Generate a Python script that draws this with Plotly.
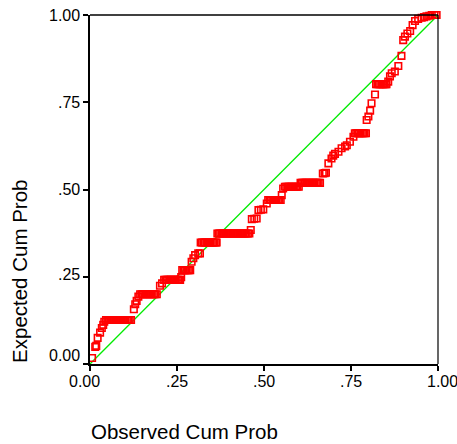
import plotly.graph_objects as go

# (observed cum prob, expected cum prob) pairs
points = [
    (0.006, 0.017), (0.015, 0.049), (0.018, 0.052), (0.022, 0.075), (0.029, 0.090),
    (0.034, 0.103), (0.038, 0.112), (0.041, 0.121),
    (0.046, 0.126), (0.050, 0.126), (0.054, 0.126), (0.058, 0.126), (0.062, 0.126),
    (0.066, 0.126), (0.070, 0.126), (0.074, 0.126), (0.078, 0.126), (0.082, 0.126),
    (0.086, 0.126), (0.090, 0.126), (0.094, 0.126), (0.098, 0.126), (0.102, 0.126),
    (0.106, 0.126), (0.110, 0.126), (0.114, 0.126), (0.118, 0.126),
    (0.126, 0.157), (0.130, 0.171), (0.134, 0.181), (0.139, 0.193),
    (0.144, 0.200), (0.148, 0.200), (0.152, 0.200), (0.156, 0.200), (0.160, 0.200),
    (0.164, 0.200), (0.168, 0.200), (0.172, 0.200), (0.176, 0.200), (0.180, 0.200),
    (0.184, 0.200), (0.188, 0.200), (0.192, 0.200),
    (0.201, 0.224), (0.207, 0.231),
    (0.213, 0.241), (0.217, 0.241), (0.221, 0.241), (0.225, 0.241), (0.229, 0.241),
    (0.233, 0.241), (0.237, 0.241), (0.241, 0.241), (0.245, 0.241), (0.249, 0.241),
    (0.253, 0.241), (0.257, 0.241), (0.259, 0.241),
    (0.262, 0.249),
    (0.265, 0.269), (0.269, 0.269), (0.273, 0.269), (0.277, 0.269), (0.281, 0.269),
    (0.285, 0.269), (0.288, 0.269),
    (0.292, 0.293), (0.297, 0.303), (0.302, 0.312), (0.311, 0.317), (0.316, 0.317),
    (0.318, 0.348), (0.322, 0.348), (0.326, 0.348), (0.330, 0.348), (0.334, 0.348),
    (0.338, 0.348), (0.342, 0.348), (0.346, 0.348), (0.350, 0.348), (0.354, 0.348),
    (0.358, 0.348), (0.362, 0.348), (0.364, 0.348),
    (0.366, 0.374), (0.370, 0.374), (0.374, 0.374), (0.378, 0.374), (0.382, 0.374),
    (0.386, 0.374), (0.390, 0.374), (0.394, 0.374), (0.398, 0.374), (0.402, 0.374),
    (0.406, 0.374), (0.410, 0.374), (0.414, 0.374), (0.418, 0.374), (0.422, 0.374),
    (0.426, 0.374), (0.430, 0.374), (0.434, 0.374), (0.438, 0.374), (0.442, 0.374),
    (0.446, 0.374), (0.450, 0.374), (0.454, 0.374), (0.458, 0.374),
    (0.462, 0.384), (0.465, 0.415), (0.472, 0.416), (0.479, 0.417), (0.484, 0.441),
    (0.491, 0.442), (0.498, 0.443), (0.508, 0.460),
    (0.512, 0.470), (0.516, 0.470), (0.520, 0.470), (0.524, 0.470), (0.528, 0.470),
    (0.532, 0.470), (0.536, 0.470), (0.540, 0.470), (0.544, 0.470), (0.548, 0.470),
    (0.551, 0.484), (0.555, 0.503),
    (0.560, 0.508), (0.564, 0.508), (0.568, 0.508), (0.572, 0.508), (0.576, 0.508),
    (0.580, 0.508), (0.584, 0.508), (0.588, 0.508), (0.592, 0.508), (0.596, 0.508),
    (0.600, 0.508),
    (0.605, 0.519), (0.609, 0.519), (0.613, 0.519), (0.617, 0.519), (0.621, 0.519),
    (0.625, 0.519), (0.629, 0.519), (0.633, 0.519), (0.637, 0.519), (0.641, 0.519),
    (0.645, 0.519), (0.649, 0.519), (0.653, 0.519), (0.657, 0.519), (0.661, 0.519),
    (0.669, 0.546), (0.674, 0.547), (0.678, 0.548), (0.685, 0.575), (0.694, 0.589),
    (0.699, 0.597), (0.704, 0.602), (0.714, 0.608), (0.723, 0.618), (0.733, 0.623),
    (0.738, 0.627), (0.747, 0.637), (0.757, 0.651),
    (0.761, 0.661), (0.765, 0.661), (0.769, 0.661), (0.773, 0.661), (0.777, 0.661),
    (0.781, 0.661), (0.785, 0.661), (0.789, 0.661), (0.793, 0.661),
    (0.795, 0.699), (0.800, 0.709), (0.805, 0.726), (0.809, 0.747), (0.819, 0.772),
    (0.822, 0.802), (0.826, 0.802), (0.830, 0.802), (0.834, 0.802), (0.838, 0.802),
    (0.842, 0.802), (0.846, 0.802), (0.850, 0.802), (0.852, 0.802),
    (0.857, 0.809), (0.862, 0.824), (0.867, 0.833), (0.876, 0.838), (0.886, 0.854),
    (0.895, 0.883), (0.900, 0.928), (0.905, 0.938), (0.912, 0.947), (0.920, 0.954),
    (0.927, 0.971), (0.934, 0.983), (0.943, 0.989), (0.953, 0.992), (0.960, 0.994),
    (0.967, 0.996), (0.975, 0.998), (0.982, 1.000), (0.990, 1.000), (0.996, 1.000),
]
obs = [p[0] for p in points]
exp = [p[1] for p in points]

diag = [0.0, 1.0]
tick_vals = [0.0, 0.25, 0.5, 0.75, 1.0]
tick_text = ["0.00", ".25", ".50", ".75", "1.00"]

FONT = "Liberation Sans, Arial, sans-serif"

fig = go.Figure()
fig.add_trace(go.Scatter(x=diag, y=diag, mode="lines",
                         line=dict(color="rgb(0,235,0)", width=1.3),
                         hoverinfo="skip", showlegend=False))
fig.add_trace(go.Scatter(x=obs, y=exp, mode="markers",
                         marker=dict(symbol="square-open", size=6.5, color="#ff0000",
                                     line=dict(color="#ff0000", width=1.6)),
                         cliponaxis=False, showlegend=False))

axis_common = dict(range=[0, 1], showgrid=False, zeroline=False, showline=True,
                   linecolor="black", linewidth=2, ticks="outside", ticklen=5,
                   tickwidth=1.5, tickcolor="black", tickvals=tick_vals,
                   showticklabels=False, fixedrange=True)
fig.update_layout(
    width=457, height=444,
    margin=dict(l=90, r=19, t=15, b=80),
    paper_bgcolor="white", plot_bgcolor="white",
    xaxis=axis_common, yaxis=axis_common,
    font=dict(family=FONT, color="black"),
)

# top and right frame lines (thinner)
fig.add_shape(type="line", xref="paper", yref="paper", x0=0, x1=1, y0=1, y1=1,
              line=dict(color="black", width=1.5))
fig.add_shape(type="line", xref="paper", yref="paper", x0=1, x1=1, y0=0, y1=1,
              line=dict(color="black", width=1.2))

# x tick labels
x_shift = [-6, 0, 0, 0, 4]
for v, t, s in zip(tick_vals, tick_text, x_shift):
    fig.add_annotation(x=v, y=-0.0507, xref="x", yref="paper", text=t, showarrow=False,
                       xanchor="center", yanchor="middle", xshift=s,
                       font=dict(size=16, family=FONT, color="black"))
# y tick labels
y_shift = [8.5, 2, 0, 0, 0]
for v, t, s in zip(tick_vals, tick_text, y_shift):
    fig.add_annotation(x=-0.0235, y=v, xref="paper", yref="y", text=t, showarrow=False,
                       xanchor="right", yanchor="middle", yshift=s,
                       font=dict(size=16, family=FONT, color="black"))

# axis titles
fig.add_annotation(x=-0.004, y=-0.194, xref="paper", yref="paper", text="Observed Cum Prob",
                   showarrow=False, xanchor="left", yanchor="middle",
                   font=dict(size=20.5, family=FONT, color="black"))
fig.add_annotation(x=-0.201, y=-0.004, xref="paper", yref="paper", text="Expected Cum Prob",
                   showarrow=False, textangle=-90, xanchor="center", yanchor="bottom",
                   font=dict(size=20.5, family=FONT, color="black"))

fig.write_html("out.html")
